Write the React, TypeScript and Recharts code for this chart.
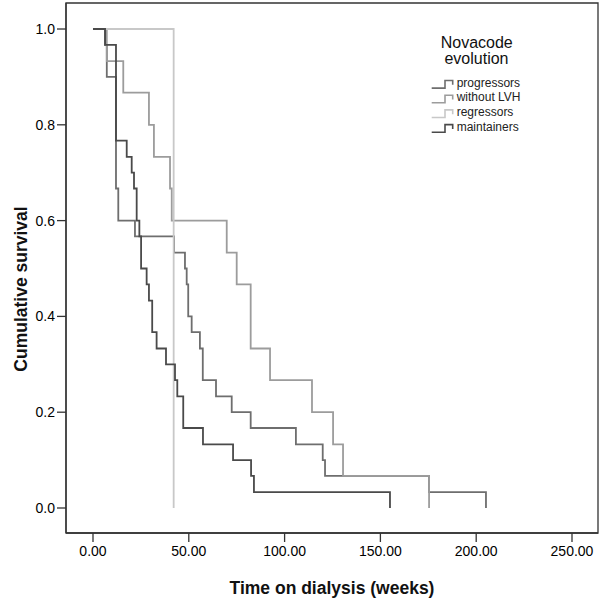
import React from 'react';
import { LineChart, Line, XAxis, YAxis, ReferenceArea, Legend, Label } from 'recharts';

const FONT = "Arial, 'Liberation Sans', Helvetica, sans-serif";

const seriesNames = ['progressors', 'without LVH', 'regressors', 'maintainers'];
const seriesColors = ['#6e6e6e', '#9c9c9c', '#c8c8c8', '#4a4a4a'];

const progressorsTime = [0, 6.3, 7.2, 12.0, 13.2, 21.9, 42.3, 48.0, 48.9, 49.7, 51.5, 55.8, 57.3, 64.2, 72.4, 82.3, 105.9, 119.9, 121.1, 175.4, 205.1];
const progressorsSurv = [1.0, 0.967, 0.9, 0.667, 0.6, 0.567, 0.533, 0.5, 0.467, 0.4, 0.367, 0.333, 0.267, 0.233, 0.2, 0.167, 0.133, 0.1, 0.067, 0.033, 0.0];

const withoutLvhTime = [0, 7.2, 15.8, 29.2, 31.8, 40.2, 41.1, 69.8, 75.0, 82.3, 92.4, 114.3, 125.3, 130.5, 175.4];
const withoutLvhSurv = [1.0, 0.933, 0.867, 0.8, 0.733, 0.667, 0.6, 0.533, 0.467, 0.333, 0.267, 0.2, 0.133, 0.067, 0.0];

const regressorsTime = [0, 42.1];
const regressorsSurv = [1.0, 0.0];

const maintainersTime = [0, 6.3, 12.0, 17.6, 20.2, 21.4, 22.8, 24.2, 25.1, 28.0, 29.2, 30.9, 33.2, 38.1, 42.8, 44.0, 47.1, 57.4, 73.1, 82.5, 84.0, 155.0];
const maintainersSurv = [1.0, 0.967, 0.767, 0.733, 0.7, 0.667, 0.6, 0.567, 0.5, 0.467, 0.433, 0.367, 0.333, 0.3, 0.267, 0.233, 0.167, 0.133, 0.1, 0.067, 0.033, 0.0];

const xTicks = [0, 50, 100, 150, 200, 250];
const yTicks = [0, 0.2, 0.4, 0.6, 0.8, 1.0];
const X_DOMAIN: [number, number] = [-14.09, 263.57];
const Y_DOMAIN: [number, number] = [-0.0522, 1.0543];

const toRows = (t: number[], s: number[]) => t.map((v, i) => ({ t: v, s: s[i] }));

const seriesData = [
  toRows(progressorsTime, progressorsSurv),
  toRows(withoutLvhTime, withoutLvhSurv),
  toRows(regressorsTime, regressorsSurv),
  toRows(maintainersTime, maintainersSurv),
];

const renderLegend = () => (
  <svg width={180} height={120} style={{ display: 'block', overflow: 'visible' }}>
    <text x={76.7} y={28.3} textAnchor="middle" fontSize={16} fontFamily={FONT} fill="#111">Novacode</text>
    <text x={76.5} y={44.3} textAnchor="middle" fontSize={16} fontFamily={FONT} fill="#111">evolution</text>
    {seriesNames.map((name, i) => {
      const by = 66.5 + i * 14.7;
      return (
        <g key={name}>
          <path
            d={`M31.7 ${by + 1.6} H45 V${by - 6} H52.7 V${by - 1.7}`}
            stroke={seriesColors[i]}
            strokeWidth={1.6}
            fill="none"
          />
          <text x={56.7} y={by} fontSize={12} fontFamily={FONT} fill="#222">{name}</text>
        </g>
      );
    })}
  </svg>
);

export default function App() {
  return (
    <div style={{ position: 'absolute', left: 0, top: 0, width: 600, height: 598, background: '#fff' }}>
      <LineChart width={600} height={598} margin={{ top: 3, right: 2, bottom: 0, left: 0 }}>
        <XAxis
          type="number"
          dataKey="t"
          domain={X_DOMAIN}
          ticks={xTicks}
          interval={0}
          allowDataOverflow
          height={65}
          tickSize={9}
          tickMargin={4}
          tickFormatter={(v: number) => v.toFixed(2)}
          tick={{ fill: '#000', fontSize: 14, fontFamily: FONT }}
          tickLine={{ stroke: '#333', strokeWidth: 1.3 }}
          axisLine={{ stroke: '#333', strokeWidth: 1.3 }}
        >
          <Label
            content={() => (
              <text x={332} y={593.5} textAnchor="middle" fontSize={17.5} fontWeight="bold" fontFamily={FONT} fill="#111">
                Time on dialysis (weeks)
              </text>
            )}
          />
        </XAxis>
        <YAxis
          type="number"
          domain={Y_DOMAIN}
          ticks={yTicks}
          interval={0}
          allowDataOverflow
          width={66}
          tickSize={9}
          tickMargin={2}
          tickFormatter={(v: number) => v.toFixed(1)}
          tick={{ fill: '#000', fontSize: 14, fontFamily: FONT }}
          tickLine={{ stroke: '#333', strokeWidth: 1.3 }}
          axisLine={{ stroke: '#333', strokeWidth: 1.3 }}
        >
          <Label
            content={() => (
              <text x={26.5} y={289} transform="rotate(-90 26.5 289)" textAnchor="middle" fontSize={17.5} fontWeight="bold" fontFamily={FONT} fill="#111">
                Cumulative survival
              </text>
            )}
          />
        </YAxis>
        <ReferenceArea
          x1={X_DOMAIN[0]}
          x2={X_DOMAIN[1]}
          y1={Y_DOMAIN[0]}
          y2={Y_DOMAIN[1]}
          fill="none"
          stroke="#333"
          strokeWidth={1.3}
          ifOverflow="visible"
        />
        {seriesData.map((d, i) => (
          <Line
            key={seriesNames[i]}
            data={d}
            dataKey="s"
            name={seriesNames[i]}
            type="stepAfter"
            stroke={seriesColors[i]}
            strokeWidth={1.8}
            dot={false}
            activeDot={false}
            isAnimationActive={false}
          />
        ))}
        <Legend
          content={renderLegend}
          layout="horizontal"
          verticalAlign="middle"
          align="center"
          wrapperStyle={{ left: 400, top: 20, width: 180, height: 120 }}
        />
      </LineChart>
    </div>
  );
}
